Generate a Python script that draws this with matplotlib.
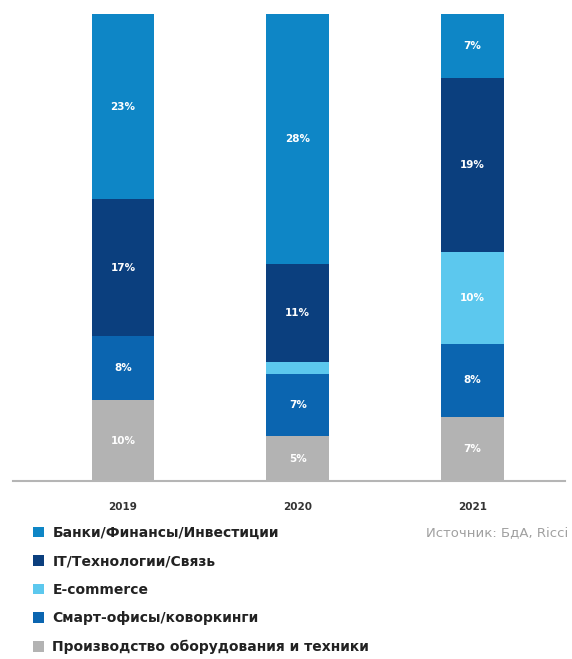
import numpy as np
import matplotlib.pyplot as plt

years = ["2019", "2020", "2021"]
sectors = [
    "Банки/Финансы/Инвестиции",
    "IT/Технологии/Связь",
    "E-commerce",
    "Смарт-офисы/коворкинги",
    "Производство оборудования и техники",
]
banks = [23, 28, 7]
it = [17, 11, 19]
ecom = [0, 1.3, 10]
smart = [8, 7, 8]
prod = [10, 5, 7]

colors = ["#0e86c6", "#0b3f7e", "#5cc8ee", "#0b65b0", "#b3b3b3"]


def main():
    # снизу вверх: производство, смарт-офисы, e-commerce, IT, банки
    series = [prod, smart, ecom, it, banks]
    names = [sectors[4], sectors[3], sectors[2], sectors[1], sectors[0]]
    cols = [colors[4], colors[3], colors[2], colors[1], colors[0]]

    data = np.array(series, dtype=float)
    totals = data.sum(axis=0)
    shares = data / totals * 100

    fig = plt.figure(figsize=(5.72, 6.59), dpi=100)
    ax = fig.add_axes([13 / 572, 1 - 481 / 659, 552 / 572, 467 / 659])

    x = np.arange(len(years))
    bottom = np.zeros(len(years))
    handles = {}
    for vals, raw, name, c in zip(shares, data, names, cols):
        bars = ax.bar(x, vals, width=0.36, bottom=bottom, color=c, label=name)
        labels = []
        for r in raw:
            if r >= 2:
                labels.append("%d%%" % round(r))
            else:
                labels.append("")
        ax.bar_label(bars, labels=labels, label_type="center", color="white",
                     fontsize=7.5, fontweight="bold")
        handles[name] = bars
        bottom += vals

    ax.set_xlim(-0.63, 2.53)
    ax.set_ylim(0, 100)
    ax.set_yticks([])
    ax.set_xticks(x)
    ax.set_xticklabels(years, fontsize=7.5, fontweight="bold", color="#333333")
    ax.tick_params(axis="x", length=0, pad=15)
    for s in ["top", "left", "right"]:
        ax.spines[s].set_visible(False)
    ax.spines["bottom"].set_color("#b5b5b5")
    ax.spines["bottom"].set_linewidth(1.5)

    fig.legend([handles[n] for n in sectors], sectors, loc="upper left",
               bbox_to_anchor=(33 / 572, 1 - 526 / 659), frameon=False,
               borderpad=0, borderaxespad=0, handlelength=0.8, handleheight=0.8,
               handletextpad=0.6, labelspacing=1.04,
               prop={"size": 10, "weight": "bold"}, labelcolor="#222222")

    fig.text(568 / 572, 1 - 533 / 659, "Источник: БдА, Ricci", ha="right",
             va="center", fontsize=9.5, color="#a0a0a0")

    fig.savefig("out.png", dpi=100)


if __name__ == "__main__":
    main()
